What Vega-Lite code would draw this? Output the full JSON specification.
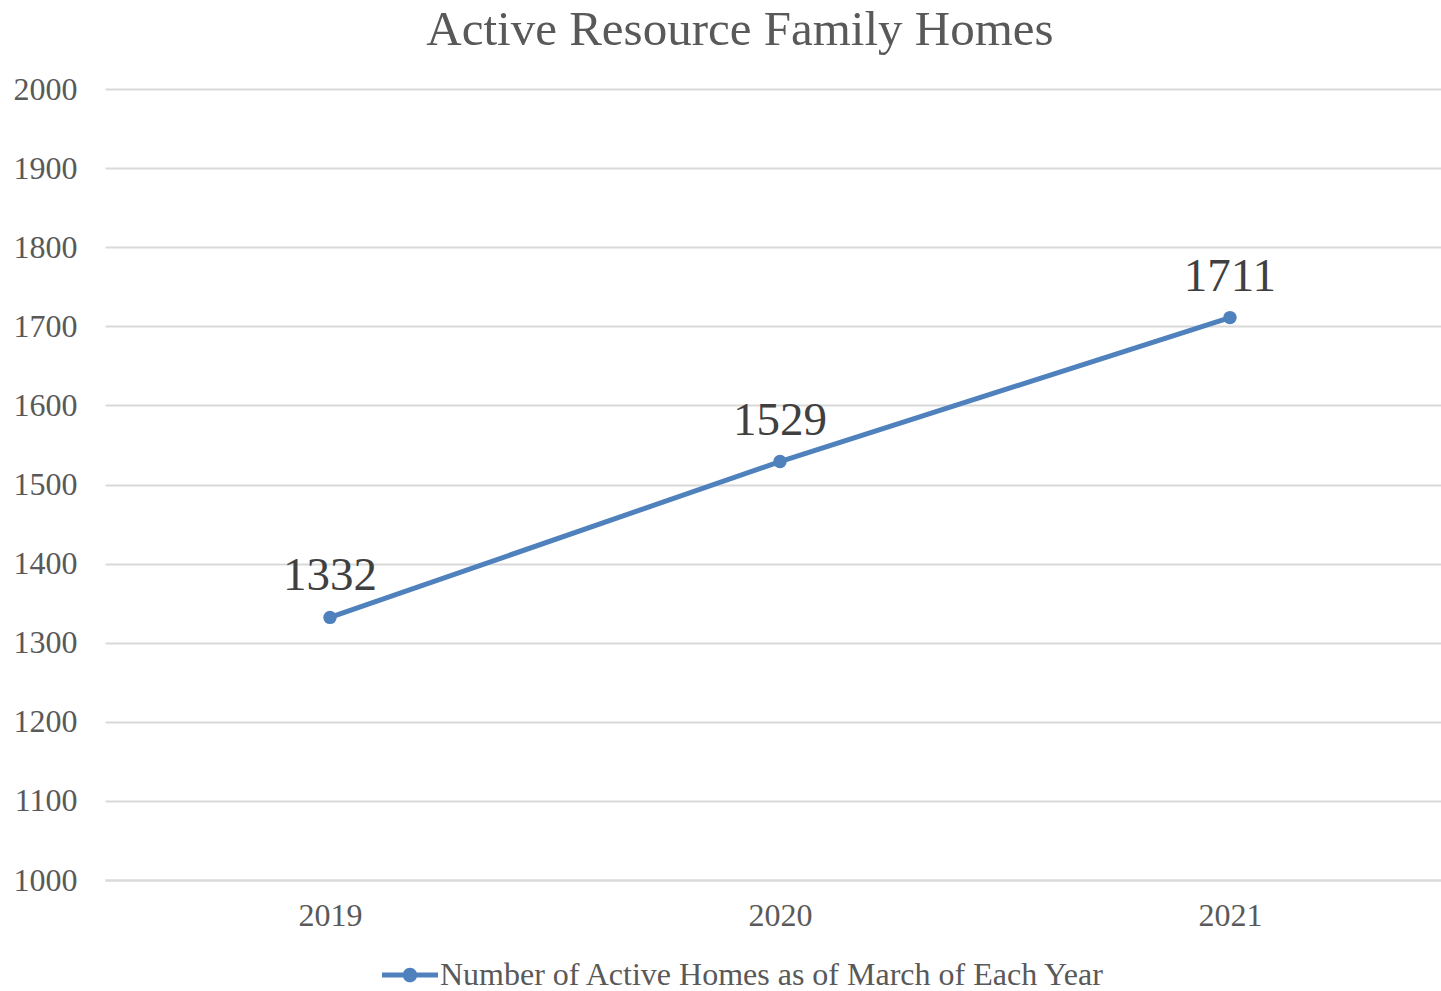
{
  "$schema": "https://vega.github.io/schema/vega-lite/v6.json",
  "autosize": "none",
  "padding": {"left": 105, "top": 89, "right": 0, "bottom": 111},
  "width": 1336,
  "height": 791,
  "background": "white",
  "title": {
    "text": "Active Resource Family Homes",
    "font": "Liberation Serif",
    "fontSize": 49,
    "fontWeight": "normal",
    "color": "#595959",
    "anchor": "middle",
    "dx": -33,
    "offset": 18
  },
  "data": {
    "values": [
      {"year": "2019", "homes": 1332, "series": "Number of Active Homes as of March of Each Year"},
      {"year": "2020", "homes": 1529, "series": "Number of Active Homes as of March of Each Year"},
      {"year": "2021", "homes": 1711, "series": "Number of Active Homes as of March of Each Year"}
    ]
  },
  "encoding": {
    "x": {
      "field": "year",
      "type": "ordinal",
      "scale": {"type": "point", "padding": 0.4844, "align": 0.516},
      "axis": {
        "title": null,
        "labelAngle": 0,
        "labelFont": "Liberation Serif",
        "labelFontSize": 32,
        "labelColor": "#595959",
        "labelPadding": 20,
        "ticks": false,
        "domain": true,
        "domainColor": "#d9d9d9",
        "domainWidth": 2,
        "grid": false
      }
    },
    "y": {
      "field": "homes",
      "type": "quantitative",
      "scale": {"domain": [1000, 2000], "nice": false, "zero": false},
      "axis": {
        "title": null,
        "format": "d",
        "values": [1000, 1100, 1200, 1300, 1400, 1500, 1600, 1700, 1800, 1900, 2000],
        "labelFont": "Liberation Serif",
        "labelFontSize": 32,
        "labelColor": "#595959",
        "labelPadding": 28,
        "ticks": false,
        "domain": false,
        "grid": true,
        "gridColor": "#d9d9d9",
        "gridWidth": 2
      }
    }
  },
  "layer": [
    {
      "mark": {"type": "line", "strokeWidth": 5},
      "encoding": {
        "color": {
          "field": "series",
          "type": "nominal",
          "scale": {"range": ["#4f81bd"]},
          "legend": {
            "title": null,
            "orient": "none",
            "legendX": 277,
            "legendY": 858,
            "labelFont": "Liberation Serif",
            "labelFontSize": 32,
            "labelColor": "#595959",
            "labelOffset": 2,
            "labelLimit": 1200,
            "symbolType": "M -1 -0.09 L 1 -0.09 L 1 0.09 L -1 0.09 Z M 0.26 0 A 0.26 0.26 0 1 1 -0.26 0 A 0.26 0.26 0 1 1 0.26 0 Z",
            "symbolSize": 3136,
            "symbolFillColor": "#4f81bd",
            "symbolStrokeWidth": 0,
            "symbolStrokeColor": "#4f81bd"
          }
        }
      }
    },
    {
      "mark": {"type": "point", "filled": true, "size": 180, "opacity": 1, "color": "#4f81bd"}
    },
    {
      "mark": {"type": "text", "font": "Liberation Serif", "fontSize": 47, "color": "#404040", "baseline": "alphabetic", "dy": -27},
      "encoding": {"text": {"field": "homes", "type": "quantitative"}}
    }
  ],
  "config": {"view": {"stroke": null}}
}
